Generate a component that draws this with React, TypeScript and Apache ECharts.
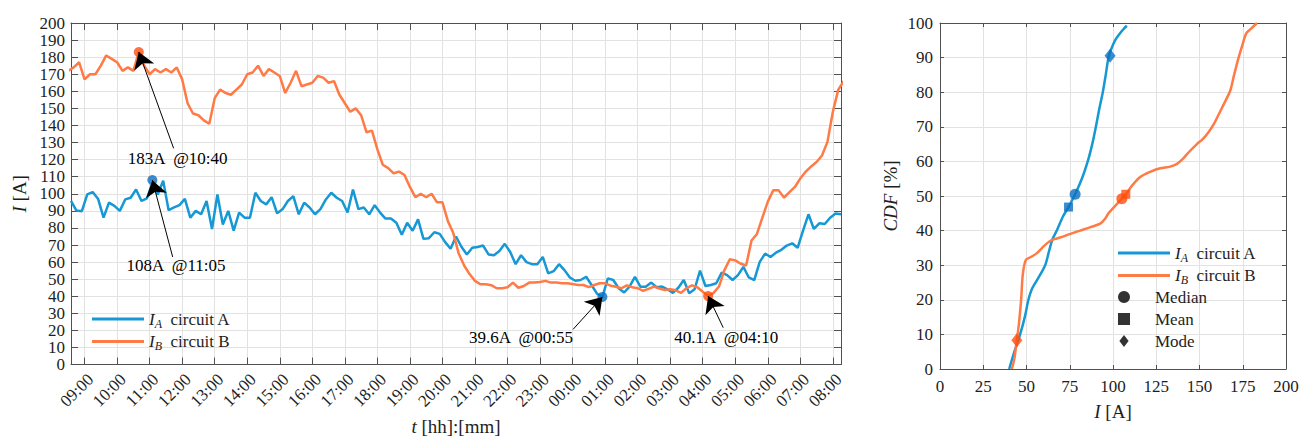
import React, { useEffect, useRef } from "react";
import * as echarts from "echarts";

// ---------- data ----------
// time in minutes since 00:00 of the first day (values > 1440 are next day)
const T_MIN = 515; // 08:35
const T_MAX = 1935; // 08:15 next day
const STEP = 10;
const START_A = 515; // 08:35
const START_B = 510; // 08:30

const currentA = [
  95.8, 90.2, 89.8, 99.6, 101, 97, 86, 94.8, 92.9, 90,
  96.7, 97.7, 102.5, 95.8, 97.3, 106, 99.6, 107.7, 90.4, 92,
  93.4, 97, 86, 90, 88, 95.8, 79.4, 99.6, 82, 90,
  78.4, 89, 86, 86, 100.6, 95.8, 93.8, 98, 88.6, 90.9,
  95.8, 98.6, 88, 94.8, 92, 88, 91, 96.7, 100.6, 97.7,
  95.8, 89, 102.5, 91, 92, 88, 93.3, 89, 85.5, 85.5,
  83, 76, 83, 78.4, 85, 73.6, 74, 77.5, 76.5, 71.7,
  67.8, 75, 69, 64.5, 68.4, 68.8, 69.7, 64.5, 64, 66.5,
  70.7, 65.9, 58.8, 64, 60, 58.8, 58.8, 63, 53.4, 54.7,
  58.8, 55.3, 51, 49.1, 49.5, 51.4, 46.6, 41.5, 39.6, 50.5,
  49.5, 44.7, 42.2, 45.6, 51.4, 45.6, 45.6, 48, 45.3, 45.7,
  44.1, 42, 45, 49.5, 41.8, 44.1, 55, 46, 46.6, 47.6,
  53.8, 52.4, 49.5, 52.4, 57.2, 51, 49.5, 60, 65, 63,
  65.5, 67.2, 69.7, 71, 68.4, 78.4, 88, 79.4, 82.7, 82.3,
  86, 88.4, 88,
];

const currentB = [
  172,
  174, 177, 167, 170, 170, 175, 181, 179, 177, 172,
  174, 172, 183, 175, 170, 173, 171, 173, 171, 174,
  167, 153, 147, 146, 143, 141, 156, 161, 159, 158,
  161, 164, 170, 171, 175, 169, 173, 171, 169, 159,
  165, 172, 163, 164, 165, 169, 168, 165, 166, 158,
  153, 148, 150, 146, 136, 137, 126, 117, 115, 112,
  113, 111, 104, 98, 100, 98, 100, 95, 95, 84,
  77, 65, 58, 53, 49, 47, 47, 46.5, 44.7, 44.7,
  45.3, 48, 45, 46, 48, 48, 48.4, 49, 48, 48,
  47.6, 47.6, 47.2, 46.6, 46.6, 45.3, 46.6, 47.6, 47.6, 46.2,
  45.6, 44.7, 46.4, 45.3, 44.7, 43.2, 44.3, 45.7, 44.5, 43.7,
  44.1, 43.5, 42, 44.7, 46.4, 45.3, 42.6, 40.1, 42, 45.7,
  55.3, 61.7, 61, 59, 58, 72.6, 76.5, 86, 95.4, 102,
  102, 97.7, 101, 104, 109, 113, 116, 118.6, 122.4, 130.4,
  148, 161, 166,
];

const TICK_HOURS = [9, 10, 11, 12, 13, 14, 15, 16, 17, 18, 19, 20, 21, 22, 23, 24, 25, 26, 27, 28, 29, 30, 31, 32];

// extremes with annotation text position and arrow tail position (data units)
const extremeA = [
  { t: 665, v: 108, label: "108A  @11:05", textAt: [708.7, 57.8], tailAt: [702.5, 63] },
  { t: 1495, v: 39.6, label: "39.6A  @00:55", textAt: [1344.9, 15.8], tailAt: [1440.8, 20.6] },
];
const extremeB = [
  { t: 640, v: 183, label: "183A  @10:40", textAt: [711.7, 120.4], tailAt: [704.3, 126.6] },
  { t: 1690, v: 40.1, label: "40.1A  @04:10", textAt: [1723.3, 15.8], tailAt: [1717.8, 21.6] },
];

// CDF curves [I (A), CDF (%)]
const cdfA = [
  [40, 0], [43, 5], [46.3, 10], [49, 15], [51.1, 20], [53, 23], [57, 26.5], [60.8, 30],
  [63, 34], [65, 37.5], [67.5, 40], [71, 44], [74.3, 46.8], [78.1, 50.5], [82, 55],
  [85.4, 60], [88, 65], [90.1, 70], [92, 75], [94.1, 80], [95.8, 85], [97.4, 90],
  [99, 92.5], [101.2, 95], [104, 97], [106, 98.2], [108, 99.2],
];
const cdfB = [
  [41.5, 0], [43, 3], [44.4, 8.3], [45.6, 13], [46.9, 20], [47.8, 27], [49.6, 31.5],
  [53, 32.5], [56, 33.5], [60, 35.5], [63.6, 37], [66.5, 37.6], [69.4, 38], [75, 39],
  [81, 40], [87, 41], [92.6, 42], [95.5, 43.5], [97.4, 45], [101, 47], [105.1, 49.2],
  [107.4, 50.5], [111, 53], [115.7, 55.5], [121.5, 57], [127.3, 58], [133, 58.5],
  [137, 59.3], [140.5, 60.8], [143.5, 62.5], [148.5, 65], [152, 66.5], [155.3, 68.5],
  [158.5, 71], [161.5, 74], [164.5, 77], [167.8, 80.5], [170, 85], [172.6, 90],
  [175, 94], [177, 97], [179.5, 98.2], [181.5, 99.2], [183.2, 100],
];
const statsA = { median: [78.1, 50.5], mean: [74.3, 46.8], mode: [98.3, 90.5] };
const statsB = { median: [105.1, 49.2], mean: [107.4, 50.5], mode: [44.4, 8.3] };

// ---------- style ----------
const FONT = "Liberation Serif, Times New Roman, serif";
const TXT = "#1e1e1e";
const AX = "#505050";
const GRID = "#e2e2e2";
const LINE_A = "#1598d4";
const LINE_B = "#ff7a45";
const MARK_A = "#0b6fc0";
const MARK_B = "#ff4d0d";
const FS = 17;
const NFS = 19;

const rich = {
  i: { fontStyle: "italic", fontFamily: FONT, fontSize: FS, color: TXT },
  s: { fontStyle: "italic", fontFamily: FONT, fontSize: 12, color: TXT, padding: [9, 0, 0, 0] },
  n: { fontFamily: FONT, fontSize: FS, color: TXT },
};
const nameRich = {
  i: { fontStyle: "italic", fontFamily: FONT, fontSize: NFS, color: TXT },
  n: { fontFamily: FONT, fontSize: NFS, color: TXT },
};

const fmtTime = (v: number) => {
  const m = ((Math.round(v) % 1440) + 1440) % 1440;
  const hh = String(Math.floor(m / 60)).padStart(2, "0");
  const mm = String(m % 60).padStart(2, "0");
  return hh + ":" + mm;
};

const toSeries = (start: number, vals: number[]) => vals.map((v, i) => [start + i * STEP, v]);

export default function App() {
  const ref = useRef<HTMLDivElement>(null);
  useEffect(() => {
    if (!ref.current) return;
    const chart = echarts.init(ref.current, null, { renderer: "svg" });
    const hourTicks = TICK_HOURS.map((h) => h * 60);
    const labelStyle = { fontFamily: FONT, fontSize: FS, color: TXT };

    const boxAxis = (gridIndex: number, min: number, max: number, interval: number | undefined, len: number, pos: string, custom?: number[]) => ({
      type: "value",
      gridIndex,
      min,
      max,
      interval,
      position: pos,
      axisLine: { show: true, onZero: false, lineStyle: { color: AX, width: 1 } },
      axisTick: { show: true, inside: true, length: len, lineStyle: { color: AX }, customValues: custom },
      axisLabel: { show: false },
      splitLine: { show: false },
    });

    const lineLegend = (left: number, top: number) => ({
      data: [
        { name: "A", icon: "rect" },
        { name: "B", icon: "rect" },
      ],
      orient: "vertical",
      left,
      top,
      padding: 0,
      itemWidth: 52,
      itemHeight: 3,
      itemGap: 2,
      formatter: (n: string) => `{i|I}{s|${n}}{n|  circuit ${n}}`,
      textStyle: { rich, lineHeight: 20 },
    });

    const option: any = {
      animation: false,
      backgroundColor: "#ffffff",
      grid: [
        { left: 71, right: 468, top: 23, bottom: 72 },
        { left: 940, right: 23, top: 23, bottom: 72 },
      ],
      xAxis: [
        {
          type: "value",
          gridIndex: 0,
          min: T_MIN,
          max: T_MAX,
          position: "bottom",
          axisLine: { show: true, onZero: false, lineStyle: { color: AX, width: 1 } },
          axisTick: { show: true, inside: true, length: 7, lineStyle: { color: AX }, customValues: hourTicks },
          axisLabel: { ...labelStyle, customValues: hourTicks, rotate: 45, margin: 6, verticalAlign: "top", formatter: fmtTime },
          splitLine: { show: true, lineStyle: { color: GRID, width: 1 } },
          name: "{i|t}{n| [hh]:[mm]}",
          nameLocation: "middle",
          nameGap: 46,
          nameTextStyle: { rich: nameRich },
        },
        boxAxis(0, T_MIN, T_MAX, undefined, 7, "top", hourTicks),
        {
          type: "value",
          gridIndex: 1,
          min: 0,
          max: 200,
          interval: 25,
          position: "bottom",
          axisLine: { show: true, onZero: false, lineStyle: { color: AX, width: 1 } },
          axisTick: { show: true, inside: true, length: 4, lineStyle: { color: AX } },
          axisLabel: { ...labelStyle, margin: 9 },
          splitLine: { show: true, lineStyle: { color: GRID, width: 1 } },
          name: "{i|I}{n| [A]}",
          nameLocation: "middle",
          nameGap: 33,
          nameTextStyle: { rich: nameRich },
        },
        boxAxis(1, 0, 200, 25, 4, "top"),
      ],
      yAxis: [
        {
          type: "value",
          gridIndex: 0,
          min: 0,
          max: 200,
          interval: 10,
          position: "left",
          axisLine: { show: true, onZero: false, lineStyle: { color: AX, width: 1 } },
          axisTick: { show: true, inside: true, length: 7, lineStyle: { color: AX } },
          axisLabel: { ...labelStyle, margin: 6 },
          splitLine: { show: true, lineStyle: { color: GRID, width: 1 } },
          name: "{i|I}{n| [A]}",
          nameLocation: "middle",
          nameGap: 36,
          nameTextStyle: { rich: nameRich },
        },
        boxAxis(0, 0, 200, 10, 7, "right"),
        {
          type: "value",
          gridIndex: 1,
          min: 0,
          max: 100,
          interval: 10,
          position: "left",
          axisLine: { show: true, onZero: false, lineStyle: { color: AX, width: 1 } },
          axisTick: { show: true, inside: true, length: 4, lineStyle: { color: AX } },
          axisLabel: { ...labelStyle, margin: 7 },
          splitLine: { show: true, lineStyle: { color: GRID, width: 1 } },
          name: "{i|CDF}{n| [%]}",
          nameLocation: "middle",
          nameGap: 40,
          nameTextStyle: { rich: nameRich },
        },
        boxAxis(1, 0, 100, 10, 4, "right"),
      ],
      legend: [
        lineLegend(92, 309),
        lineLegend(1118, 243),
        {
          data: [
            { name: "Median", icon: "circle" },
            { name: "Mean", icon: "path://M0,0H10V10H0Z" },
            { name: "Mode", icon: "path://M5,0L10,6.5L5,13L0,6.5Z" },
          ],
          orient: "vertical",
          left: 1118,
          top: 287,
          padding: 0,
          itemWidth: 52,
          itemHeight: 12,
          itemGap: 2,
          textStyle: { fontFamily: FONT, fontSize: FS, color: TXT, lineHeight: 20 },
        },
      ],
      series: [
        {
          name: "A",
          type: "line",
          xAxisIndex: 0,
          yAxisIndex: 0,
          data: toSeries(START_A, currentA),
          symbol: "none",
          lineStyle: { color: LINE_A, width: 2.5 },
          itemStyle: { color: LINE_A },
          z: 2,
        },
        {
          name: "B",
          type: "line",
          xAxisIndex: 0,
          yAxisIndex: 0,
          data: toSeries(START_B, currentB),
          symbol: "none",
          lineStyle: { color: LINE_B, width: 2.5 },
          itemStyle: { color: LINE_B },
          z: 2,
        },
        {
          name: "extremes",
          type: "scatter",
          xAxisIndex: 0,
          yAxisIndex: 0,
          symbol: "circle",
          symbolSize: 10,
          z: 3,
          data: [
            ...extremeA.map((e) => ({ value: [e.t, e.v], itemStyle: { color: MARK_A } })),
            ...extremeB.map((e) => ({ value: [e.t, e.v], itemStyle: { color: MARK_B } })),
          ],
        },
        {
          name: "arrows",
          type: "lines",
          coordinateSystem: "cartesian2d",
          xAxisIndex: 0,
          yAxisIndex: 0,
          symbol: ["none", "arrow"],
          symbolSize: [0, 16],
          lineStyle: { color: "#000", width: 1, opacity: 1 },
          z: 4,
          data: [...extremeA, ...extremeB].map((e) => ({ coords: [e.tailAt, [e.t, e.v]] })),
        },
        {
          name: "labels",
          type: "scatter",
          xAxisIndex: 0,
          yAxisIndex: 0,
          symbolSize: 1,
          itemStyle: { color: "rgba(255,255,255,0)" },
          z: 4,
          label: {
            show: true,
            position: "inside",
            formatter: (p: any) => p.data.name,
            fontFamily: FONT,
            fontSize: FS,
            color: "#000",
            opacity: 1,
            textBorderWidth: 0,
          },
          data: [...extremeA, ...extremeB].map((e) => ({ value: e.textAt, name: e.label })),
        },
        {
          name: "A",
          type: "line",
          xAxisIndex: 2,
          yAxisIndex: 2,
          data: cdfA,
          smooth: 0.3,
          symbol: "none",
          lineStyle: { color: LINE_A, width: 2.5 },
          itemStyle: { color: LINE_A },
          z: 2,
        },
        {
          name: "B",
          type: "line",
          xAxisIndex: 2,
          yAxisIndex: 2,
          data: cdfB,
          smooth: 0.3,
          symbol: "none",
          lineStyle: { color: LINE_B, width: 2.5 },
          itemStyle: { color: LINE_B },
          z: 2,
        },
        {
          name: "Median",
          type: "scatter",
          xAxisIndex: 2,
          yAxisIndex: 2,
          symbol: "circle",
          symbolSize: 11,
          itemStyle: { color: "#000" },
          z: 3,
          data: [
            { value: statsA.median, itemStyle: { color: MARK_A } },
            { value: statsB.median, itemStyle: { color: MARK_B } },
          ],
        },
        {
          name: "Mean",
          type: "scatter",
          xAxisIndex: 2,
          yAxisIndex: 2,
          symbol: "rect",
          symbolSize: 9,
          itemStyle: { color: "#000" },
          z: 3,
          data: [
            { value: statsA.mean, itemStyle: { color: MARK_A } },
            { value: statsB.mean, itemStyle: { color: MARK_B } },
          ],
        },
        {
          name: "Mode",
          type: "scatter",
          xAxisIndex: 2,
          yAxisIndex: 2,
          symbol: "diamond",
          symbolSize: [11, 14],
          itemStyle: { color: "#000" },
          z: 3,
          data: [
            { value: statsA.mode, itemStyle: { color: MARK_A } },
            { value: statsB.mode, itemStyle: { color: MARK_B } },
          ],
        },
      ],
    };
    chart.setOption(option);
    return () => chart.dispose();
  }, []);

  return (
    <div
      ref={ref}
      style={{ position: "fixed", left: 0, top: 0, width: 1309, height: 441, background: "#fff" }}
    />
  );
}
